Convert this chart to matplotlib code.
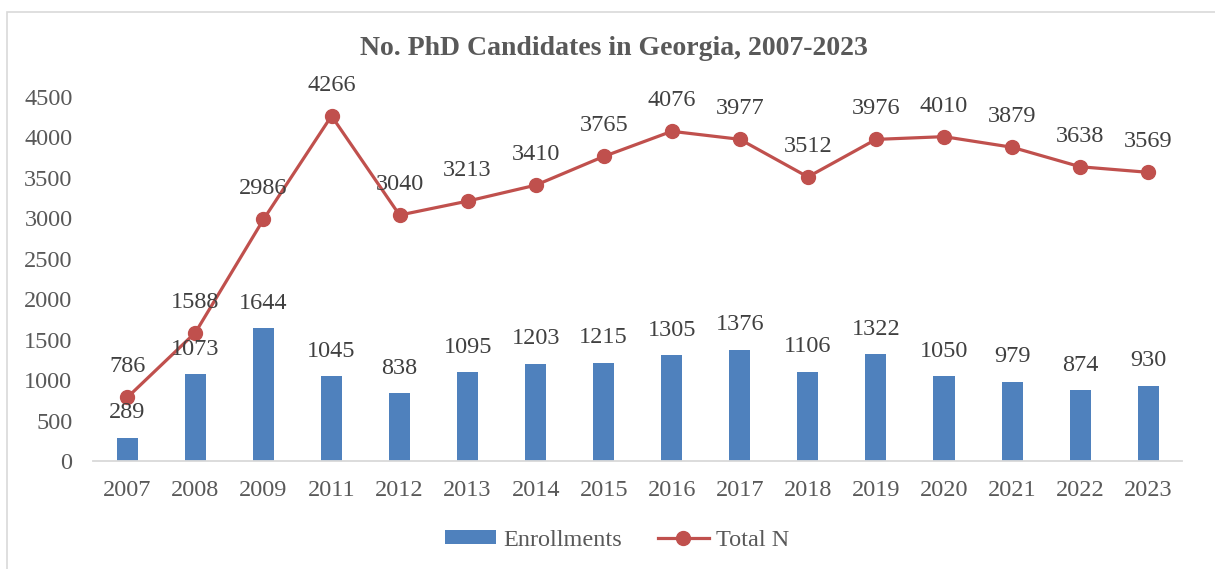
import matplotlib.pyplot as plt
import numpy as np
from matplotlib.patches import Rectangle

# enrollment and total headcount per year
years = ['2007', '2008', '2009', '2011', '2012', '2013', '2014', '2015',
         '2016', '2017', '2018', '2019', '2020', '2021', '2022', '2023']
enrollments = [289, 1073, 1644, 1045, 838, 1095, 1203, 1215,
               1305, 1376, 1106, 1322, 1050, 979, 874, 930]
total_n = [786, 1588, 2986, 4266, 3040, 3213, 3410, 3765,
           4076, 3977, 3512, 3976, 4010, 3879, 3638, 3569]

BLUE = '#4F81BD'
RED = '#C0504D'
GREY = '#595959'
FS = 17.5

plt.rcParams['font.family'] = ['Liberation Serif', 'DejaVu Serif']

fig = plt.figure(figsize=(12.15, 5.69), dpi=100)
ax = fig.add_axes([0.0768, 0.1898, 0.8962, 0.6397])

x = np.arange(len(years))
bars = ax.bar(x, enrollments, width=0.31, color=BLUE, label='Enrollments', zorder=2)
line, = ax.plot(x, total_n, color=RED, lw=2.3, marker='o', ms=10, label='Total N', zorder=3)

# value labels
for xi, v in zip(x, enrollments):
    ax.annotate(str(v), (xi, v), xytext=(0, 18), textcoords='offset points',
                ha='center', va='center', fontsize=FS, color='#404040')
for xi, v in zip(x, total_n):
    ax.annotate(str(v), (xi, v), xytext=(0, 22), textcoords='offset points',
                ha='center', va='center', fontsize=FS, color='#404040')

ax.set_xlim(-0.5, len(years) - 0.5)
ax.set_ylim(0, 4500)
ax.set_yticks(range(0, 4501, 500))
ax.set_xticks(x)
ax.set_xticklabels(years)
ax.tick_params(axis='both', length=0, labelsize=FS, labelcolor=GREY)
ax.tick_params(axis='y', pad=15)
ax.tick_params(axis='x', pad=14)
for side in ['top', 'right', 'left']:
    ax.spines[side].set_visible(False)
ax.spines['bottom'].set_color('#D9D9D9')
ax.spines['bottom'].set_linewidth(1.3)

fig.text(0.505, 0.915, 'No. PhD Candidates in Georgia, 2007-2023', ha='center',
         va='center', fontsize=20, fontweight='bold', color=GREY)

leg = fig.legend([bars, line], ['Enrollments', 'Total N'], loc='center',
                 bbox_to_anchor=(0.508, 0.05), ncol=2, frameon=False,
                 fontsize=FS, handlelength=2.1, handleheight=0.5,
                 handletextpad=0.3, columnspacing=1.45)
for t in leg.get_texts():
    t.set_color(GREY)

# chart frame
fig.patches.append(Rectangle((7 / 1215, -0.02), 1.05, 1 - 12 / 569 + 0.02,
                             transform=fig.transFigure, fill=False,
                             edgecolor='#D9D9D9', lw=1.2))

fig.savefig('out.png', dpi=100)
